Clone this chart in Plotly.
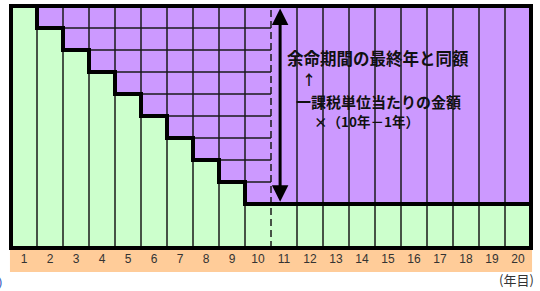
import plotly.graph_objects as go

# ---- data ----
years = list(range(1, 21))
tick_labels = [str(y) for y in years]
green_heights = [11, 10, 9, 8, 7, 6, 5, 4, 3, 2, 2, 2, 2, 2, 2, 2, 2, 2, 2, 2]
total_height = 11
cut_year = 10  # boundary after this year is dashed

label_main = "余命期間の最終年と同額"
label_arrow = "↑"
label_sub1 = "一課税単位当たりの金額"
label_sub2 = "×（10年－1年）"
unit_label = "(年目)"

GREEN = "#CCFFCC"
PURPLE = "#CC99FF"
ORANGE = "#FFCC99"
LINE = "#1a1a1a"

fig = go.Figure()

# green bars
fig.add_trace(go.Bar(x=years, y=green_heights, width=1, marker=dict(color=GREEN, line=dict(width=0)),
                     hoverinfo="skip"))
# purple bars
fig.add_trace(go.Bar(x=years, y=[total_height - h for h in green_heights], base=green_heights, width=1,
                     marker=dict(color=PURPLE, line=dict(width=0)), hoverinfo="skip"))

# vertical grid lines (solid), except at the cut boundary
vx, vy = [], []
for k in years[:-1]:
    b = k + 0.5
    if k == cut_year:
        continue
    vx += [b, b, None]
    vy += [0, total_height, None]
fig.add_trace(go.Scatter(x=vx, y=vy, mode="lines", line=dict(color=LINE, width=1.5), hoverinfo="skip"))

# horizontal grid lines in the staircase purple region
hx, hy = [], []
for k, h in zip(years, green_heights):
    if k > cut_year:
        break
    for j in range(h + 1, total_height):
        hx += [k - 0.5, k + 0.5, None]
        hy += [j, j, None]
fig.add_trace(go.Scatter(x=hx, y=hy, mode="lines", line=dict(color=LINE, width=1.5), hoverinfo="skip"))

# dashed boundary
fig.add_trace(go.Scatter(x=[cut_year + 0.5, cut_year + 0.5], y=[0, total_height], mode="lines",
                         line=dict(color=LINE, width=1.5, dash="7px,4px"), hoverinfo="skip"))

# thick staircase line
fig.add_trace(go.Scatter(x=[k + 0.5 for k in years], y=green_heights, mode="lines", line_shape="vh",
                         line=dict(color="black", width=4), hoverinfo="skip"))

# frame
fig.add_shape(type="rect", xref="paper", yref="paper", x0=0, x1=1, y0=0, y1=1,
              line=dict(color="black", width=4), layer="above")
# orange tick band
fig.add_shape(type="rect", xref="paper", yref="paper", x0=-0.002, x1=1.002, y0=-0.008, y1=-0.099,
              line=dict(width=0), fillcolor=ORANGE, layer="below")

# double arrow
fig.add_annotation(x=10.85, y=2.1, ax=10.85, ay=10.95, xref="x", yref="y", axref="x", ayref="y",
                   text="", showarrow=True, arrowside="end+start", arrowhead=2, startarrowhead=2,
                   arrowsize=1.1, startarrowsize=1.1, arrowwidth=3, arrowcolor="black",
                   standoff=0, startstandoff=0)

cjk = "Noto Sans CJK JP"
fig.add_annotation(x=14.6, y=8.64, xref="x", yref="y", text="<b>" + label_main + "</b>", showarrow=False,
                   font=dict(family=cjk, size=16.5, color="#111"))
fig.add_annotation(x=11.96, y=7.68, xref="x", yref="y", text="<b>" + label_arrow + "</b>", showarrow=False,
                   font=dict(family=cjk, size=14, color="#111"))
fig.add_annotation(x=14.65, y=6.66, xref="x", yref="y", text="<b>" + label_sub1 + "</b>", showarrow=False,
                   font=dict(family=cjk, size=15, color="#111"), borderpad=0)
fig.add_annotation(x=14.17, y=5.78, xref="x", yref="y", text="<b>" + label_sub2 + "</b>", showarrow=False,
                   font=dict(family=cjk, size=13.5, color="#111"), borderpad=0)
fig.add_annotation(x=1.01, y=-0.132, xref="paper", yref="paper", xanchor="right", yanchor="middle",
                   text=unit_label, showarrow=False, font=dict(family=cjk, size=13, color="#333"))
fig.add_annotation(x=-0.013, y=-0.14, xref="paper", yref="paper", xanchor="right", yanchor="middle",
                   text=")", showarrow=False, font=dict(family="Liberation Sans", size=13, color="#4060c0"))

fig.update_layout(
    width=540, height=291,
    margin=dict(l=11, r=9, t=6, b=43),
    paper_bgcolor="white", plot_bgcolor="white",
    barmode="overlay", bargap=0, showlegend=False,
    xaxis=dict(range=[0.5, 20.5], tickvals=years, ticktext=tick_labels, showgrid=False, zeroline=False,
               showline=False, ticks="", ticklabelstandoff=2,
               tickfont=dict(family="Liberation Sans", size=12, color="#333"),
               fixedrange=True),
    yaxis=dict(range=[0, total_height], showgrid=False, zeroline=False, showticklabels=False,
               showline=False, ticks="", fixedrange=True),
)

fig.write_html("out.html", config={"displayModeBar": False},
               post_script="document.body.style.margin='0';document.body.style.overflow='hidden';")
